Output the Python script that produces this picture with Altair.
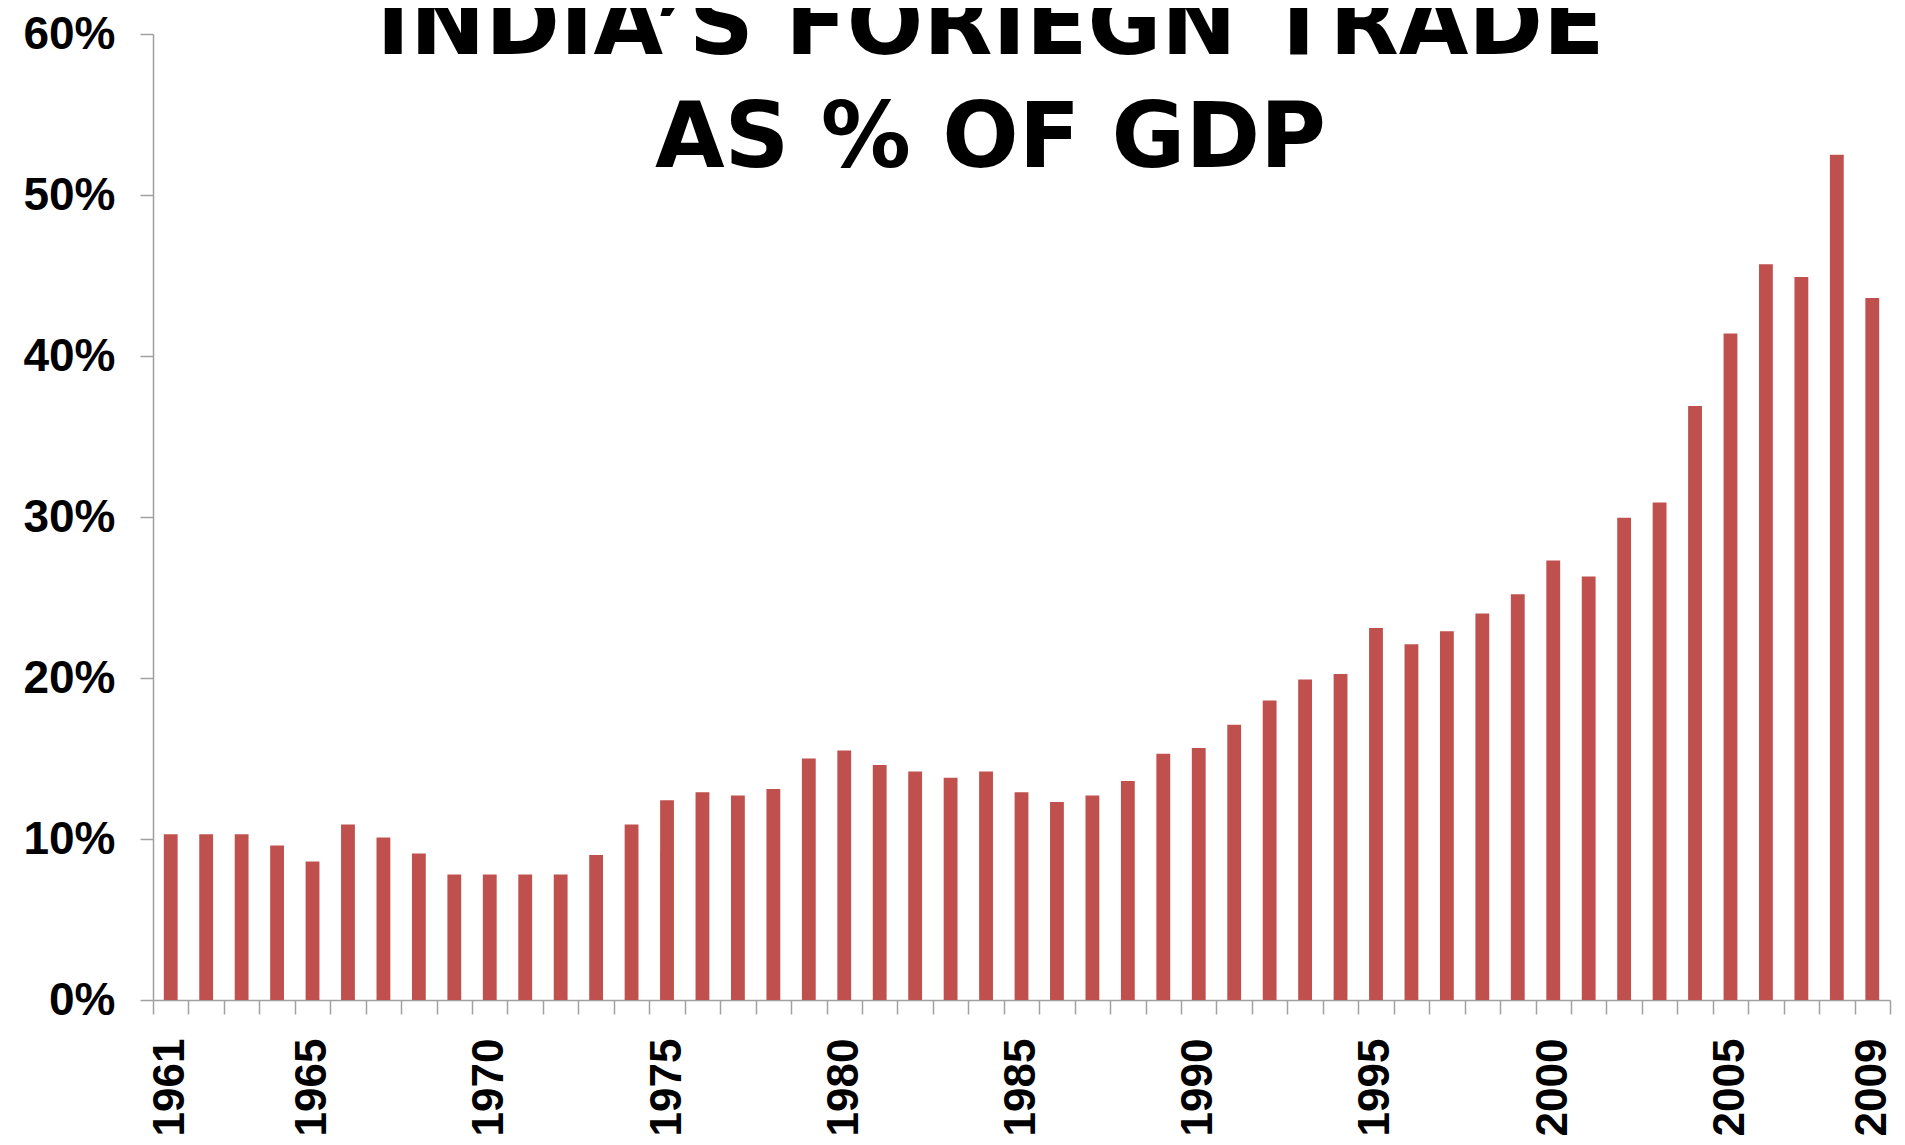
import altair as alt
import pandas as pd

# ---- data ----
years = list(range(1961, 2010))
trade_pct = [
    10.3, 10.3, 10.3, 9.6, 8.6, 10.9, 10.1, 9.1, 7.8, 7.8,      # 1961-1970
    7.8, 7.8, 9.0, 10.9, 12.4, 12.9, 12.7, 13.1, 15.0, 15.5,    # 1971-1980
    14.6, 14.2, 13.8, 14.2, 12.9, 12.3, 12.7, 13.6, 15.3, 15.65, # 1981-1990
    17.1, 18.6, 19.9, 20.25, 23.1, 22.1, 22.9, 24.0, 25.2, 27.3, # 1991-2000
    26.3, 29.95, 30.9, 36.9, 41.4, 45.7, 44.9, 52.5, 43.6,       # 2001-2009
]
label_years = [1961, 1965, 1970, 1975, 1980, 1985, 1990, 1995, 2000, 2005, 2009]
y_ticks = [0, 10, 20, 30, 40, 50, 60]
title_lines = ["INDIA\u2019S FORIEGN TRADE", "AS % OF GDP"]

df = pd.DataFrame({"year": years, "pct": trade_pct})

BAR = "#C0504D"
AXIS_GRAY = "#A0A0A0"
LABEL_FONT = "Liberation Sans"

label_list = ",".join(str(y) for y in label_years)

chart = (
    alt.Chart(df)
    .mark_bar(color=BAR, width=alt.RelativeBandSize(0.39))
    .encode(
        x=alt.X(
            "year:O",
            title=None,
            scale=alt.Scale(paddingInner=0, paddingOuter=0),
            axis=alt.Axis(
                labelAngle=-90,
                labelExpr=f"indexof([{label_list}], datum.value) >= 0 ? datum.label : ''",
                labelOverlap=False,
                labelFont=LABEL_FONT,
                labelFontSize=44,
                labelFontWeight="bold",
                labelColor="#000000",
                labelPadding=24,
                tickBand="extent",
                tickSize=14,
                tickColor=AXIS_GRAY,
                tickWidth=1.5,
                domainColor=AXIS_GRAY,
                domainWidth=1.5,
                grid=False,
            ),
        ),
        y=alt.Y(
            "pct:Q",
            title=None,
            scale=alt.Scale(domain=[0, 60], nice=False, zero=True),
            axis=alt.Axis(
                values=y_ticks,
                labelExpr="datum.value + '%'",
                labelFont=LABEL_FONT,
                labelFontSize=46,
                labelFontWeight="bold",
                labelColor="#000000",
                labelPadding=25,
                tickSize=13,
                tickColor=AXIS_GRAY,
                tickWidth=1.5,
                domainColor=AXIS_GRAY,
                domainWidth=1.5,
                grid=False,
            ),
        ),
    )
    .properties(
        width=1737,
        height=966,
        title=alt.TitleParams(
            text=title_lines,
            font="DejaVu Sans",
            fontSize=90,
            fontWeight="bold",
            color="#000000",
            lineHeight=113,
            anchor="middle",
            offset=0,
            dy=175,
            dx=-31,
        ),
        autosize=alt.AutoSizeParams(type="none"),
        padding={"left": 145, "top": 26, "right": 7, "bottom": 137},
    )
    .configure_view(stroke=None)
)

chart.save("out.html", embed_options={"renderer": "svg", "actions": False})
